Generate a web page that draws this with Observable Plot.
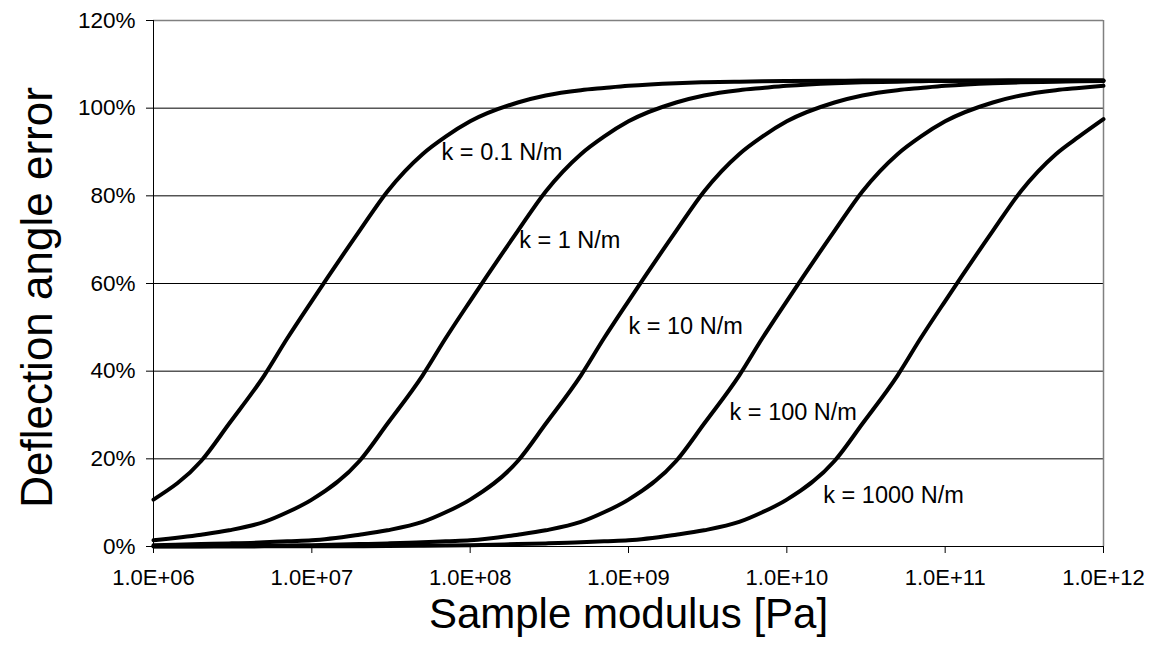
<!DOCTYPE html>
<html>
<head>
<meta charset="utf-8">
<script src="https://cdn.jsdelivr.net/npm/d3@7"></script>
<script src="https://cdn.jsdelivr.net/npm/@observablehq/plot@0.6"></script>
<style>
  html, body { margin: 0; padding: 0; background: #fff; }
  #chart svg { display: block; }
</style>
</head>
<body>
<div id="chart"></div>
<script>
// Sample modulus [Pa] at which each curve was read
const modulus = [
  1e6, 2e6, 3e6, 5e6, 7e6,
  1e7, 2e7, 3e7, 5e7, 7e7,
  1e8, 2e8, 3e8, 5e8, 7e8,
  1e9, 2e9, 3e9, 5e9, 7e9,
  1e10, 2e10, 3e10, 5e10, 7e10,
  1e11, 2e11, 3e11, 5e11, 7e11,
  1e12
];
// Deflection angle error [%] per spring constant
const k0_1 = [
  10.7, 19.5, 28, 39, 47.5,
  56, 72, 81, 89.5, 93.5,
  97, 101.3, 102.9, 104.1, 104.6,
  105.1, 105.7, 105.9, 106.05, 106.15,
  106.2, 106.25, 106.3, 106.3, 106.3,
  106.3, 106.3, 106.3, 106.3, 106.3,
  106.3
];
const k1 = [
  1.4, 2.7, 3.7, 5.6, 7.8,
  10.7, 19.5, 28, 39, 47.5,
  56, 72, 81, 89.5, 93.5,
  97, 101.3, 102.9, 104.1, 104.6,
  105.1, 105.7, 105.9, 106.05, 106.15,
  106.2, 106.25, 106.3, 106.3, 106.3,
  106.3
];
const k10 = [
  0.3, 0.55, 0.7, 0.95, 1.2,
  1.4, 2.7, 3.7, 5.6, 7.8,
  10.7, 19.5, 28, 39, 47.5,
  56, 72, 81, 89.5, 93.5,
  97, 101.3, 102.9, 104.1, 104.6,
  105.1, 105.7, 105.9, 106.05, 106.15,
  106.2
];
const k100 = [
  0.05, 0.08, 0.11, 0.18, 0.23,
  0.3, 0.55, 0.7, 0.95, 1.2,
  1.4, 2.7, 3.7, 5.6, 7.8,
  10.7, 19.5, 28, 39, 47.5,
  56, 72, 81, 89.5, 93.5,
  97, 101.3, 102.9, 104.1, 104.6,
  105.1
];
const k1000 = [
  0.01, 0.015, 0.02, 0.03, 0.04,
  0.05, 0.08, 0.11, 0.18, 0.23,
  0.3, 0.55, 0.7, 0.95, 1.2,
  1.4, 2.7, 3.7, 5.6, 7.8,
  10.7, 19.5, 28, 39, 47.5,
  56, 72, 81, 89.5, 93.5,
  97.5
];
const seriesNames = ["k = 0.1 N/m", "k = 1 N/m", "k = 10 N/m", "k = 100 N/m", "k = 1000 N/m"];
const seriesValues = [k0_1, k1, k10, k100, k1000];

// Curve label anchors (data coordinates)
const labelModulus = [6.6e7, 2.04e8, 1.0e9, 4.35e9, 1.7e10];
const labelPercent = [89.9, 69.8, 50.2, 30.6, 11.6];

const xTicks = [1e6, 1e7, 1e8, 1e9, 1e10, 1e11, 1e12];
const yTicks = [0, 20, 40, 60, 80, 100, 120];
const gridLines = [20, 40, 60, 80, 100];

const rows = [];
seriesNames.forEach((name, i) => {
  modulus.forEach((m, j) => rows.push({k: name, E: m, v: seriesValues[i][j]}));
});
const labels = seriesNames.map((name, i) => ({k: name, E: labelModulus[i], v: labelPercent[i]}));

const font = "'Liberation Sans', Arial, sans-serif";

const chart = Plot.plot({
  width: 1167,
  height: 660,
  marginLeft: 153,
  marginRight: 64,
  marginTop: 20,
  marginBottom: 114,
  style: {fontFamily: font, background: "#fff", color: "#000", overflow: "visible"},
  x: {type: "log", domain: [1e6, 1e12]},
  y: {domain: [0, 120]},
  marks: [
    Plot.ruleY(gridLines, {stroke: "#000", strokeWidth: 1}),
    Plot.ruleY([yTicks[yTicks.length - 1]], {stroke: "#808080", strokeWidth: 1.5}),
    Plot.ruleX([xTicks[xTicks.length - 1]], {stroke: "#808080", strokeWidth: 1.5}),
    Plot.axisY({
      ticks: yTicks,
      tickFormat: d => d + "%",
      tickSize: 7,
      tickPadding: 11,
      fontSize: 22.5,
      label: null,
      stroke: "#000"
    }),
    Plot.axisX({
      ticks: xTicks,
      tickFormat: d => "1.0E+" + String(Math.round(Math.log10(d))).padStart(2, "0"),
      tickSize: 7,
      tickPadding: 16,
      fontSize: 22,
      label: null,
      stroke: "#000"
    }),
    Plot.lineY(rows, {x: "E", y: "v", z: "k", stroke: "#000", strokeWidth: 4, curve: "monotone-x"}),
    Plot.ruleX([xTicks[0]], {stroke: "#000", strokeWidth: 1}),
    Plot.ruleY([yTicks[0]], {stroke: "#000", strokeWidth: 1}),
    Plot.text(labels, {x: "E", y: "v", text: "k", textAnchor: "start", fontSize: 23.5, fill: "#000"}),
    Plot.text(["Sample modulus [Pa]"], {frameAnchor: "bottom", textAnchor: "middle", lineAnchor: "middle", dy: 68, fontSize: 42, fill: "#000"}),
    Plot.text(["Deflection angle error"], {frameAnchor: "left", textAnchor: "middle", lineAnchor: "middle", dx: -116, dy: 14, rotate: -90, fontSize: 44, fill: "#000"})
  ]
});
document.getElementById("chart").appendChild(chart);
</script>
</body>
</html>
